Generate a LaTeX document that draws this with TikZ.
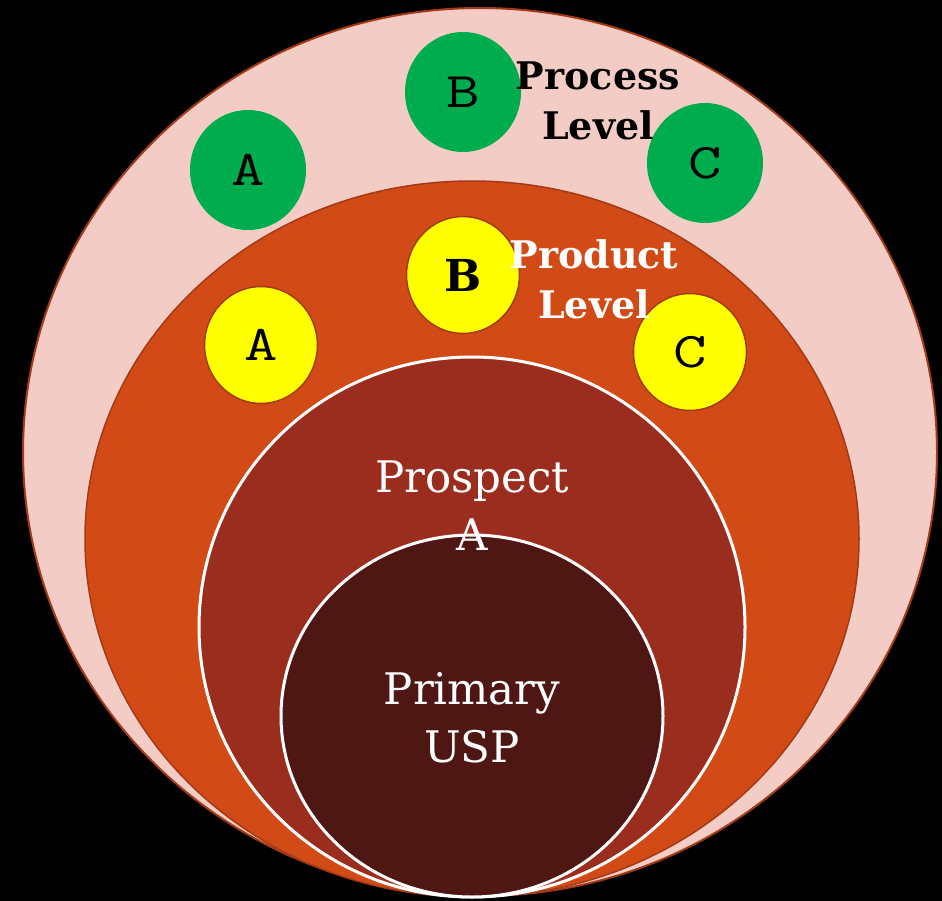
\documentclass[tikz,border=0pt]{standalone}
\usepackage{fontspec}
\setmainfont{DejaVu Serif}
\usetikzlibrary{shapes.geometric}
\definecolor{pinkfill}{HTML}{F4CCC6}
\definecolor{orangefill}{HTML}{D24B17}
\definecolor{prospectfill}{HTML}{9B2D1F}
\definecolor{primaryfill}{HTML}{4E1714}
\definecolor{greenfill}{HTML}{00AD4E}
\definecolor{yellowfill}{HTML}{FFFF00}
\definecolor{rimbrown}{HTML}{A33A16}
% wide typewriter letters for the markers
\newcommand{\markletter}[1]{\scalebox{1.3}[1]{#1}}
\newcommand{\heavyletter}[1]{{\rmfamily\bfseries\fontsize{44}{44}\selectfont #1}}
\tikzset{
  ring/.style={ellipse, inner sep=0pt, outer sep=0pt},
  greendot/.style={ring, fill=greenfill, minimum width=116pt, minimum height=120pt,
    font=\fontsize{50}{50}\ttfamily\selectfont, text=black},
  yellowdot/.style={ring, fill=yellowfill, draw=rimbrown, line width=1.5pt,
    minimum width=113pt, minimum height=117pt,
    font=\fontsize{50}{50}\ttfamily\selectfont, text=black},
  levellabel/.style={align=center, font=\bfseries\fontsize{38}{50}\selectfont},
  whitelabel/.style={align=center, text=white, font=\fontsize{43.5}{58}\selectfont}
}
\begin{document}
\begin{tikzpicture}[x=1pt,y=-1pt]
  \fill[black] (0,0) rectangle (942,901);
  \useasboundingbox (0,0) rectangle (942,901);

  % nested levels
  \node[ring, fill=pinkfill, draw=rimbrown, line width=2pt,
        minimum width=914pt, minimum height=888pt] (process) at (480,452) {};
  \node[ring, fill=orangefill, draw=rimbrown, line width=1.5pt,
        minimum width=774pt, minimum height=716pt] (product) at (472,539) {};
  \node[ring, fill=prospectfill, draw=white, line width=3pt,
        minimum width=546pt, minimum height=540pt] (prospect) at (472,627) {};
  \node[ring, fill=primaryfill, draw=white, line width=3pt,
        minimum width=382pt, minimum height=362pt] (primary) at (472,716) {};

  % process level markers
  \node[greendot] (pa) at (248,170) {\markletter{A}};
  \node[greendot] (pb) at (463,92) {\markletter{B}};
  \node[greendot] (pc) at (705,163) {\markletter{C}};

  % product level markers
  \node[yellowdot] (qa) at (261,345) {\markletter{A}};
  \node[yellowdot] (qb) at (463,275) {\raisebox{-2pt}{\heavyletter{B}}};
  \node[yellowdot] (qc) at (690,352) {\markletter{C}};

  % labels
  \node[levellabel, text=black] (processlabel) at (598,101) {Process\\Level};
  \node[levellabel, text=white] (productlabel) at (594,279) {Product\\Level};
  \node[whitelabel] (prospectlabel) at (472,506) {Prospect\\A};
  \node[whitelabel] (primarylabel) at (472,718) {Primary\\USP};
\end{tikzpicture}
\end{document}
